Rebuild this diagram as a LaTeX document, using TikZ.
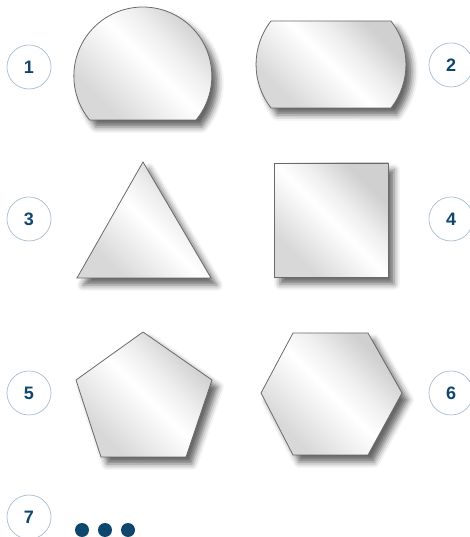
\documentclass[tikz,border=0pt]{standalone}
\usepackage{fontspec}
\setmainfont{Liberation Sans}
\usetikzlibrary{shadows.blur}
\definecolor{numblue}{HTML}{0E466E}
\definecolor{ringblue}{HTML}{A6BECF}
\definecolor{edgegray}{HTML}{6A6A6A}
\definecolor{ga}{HTML}{D8D8D8}
\definecolor{gb}{HTML}{EEEEEE}
\definecolor{gc}{HTML}{D0D0D0}
\pgfdeclarehorizontalshading{shine}{100bp}{color(0bp)=(ga); color(28bp)=(ga); color(40bp)=(gb); color(50bp)=(white); color(60bp)=(gb); color(72bp)=(gc); color(100bp)=(gc)}
\tikzset{
  numring/.style={circle, draw=ringblue, line width=0.7pt, minimum size=44pt, inner sep=0pt,
    font=\fontsize{18}{18}\selectfont\bfseries, text=numblue},
  shp/.style={draw=edgegray, line width=0.8pt, shading=shine, shading angle=45,
    blur shadow={shadow xshift=6pt, shadow yshift=-7pt, shadow blur radius=6pt, shadow opacity=60}},
  dotc/.style={fill=numblue, draw=none}
}
\begin{document}
\begin{tikzpicture}[x=1pt,y=1pt]
\useasboundingbox (0,0) rectangle (469,537);
% number rings
\node[numring] (n1) at (29,470) {1};
\node[numring] (n2) at (451,472) {2};
\node[numring] (n3) at (29,318) {3};
\node[numring] (n4) at (451,318) {4};
\node[numring] (n5) at (29,144) {5};
\node[numring] (n6) at (451,144) {6};
\node[numring] (n7) at (29,20) {7};
% shape 1: truncated circle
\path[shp] (196,417) arc[start angle=-39.6, end angle=219.6, radius=69] -- cycle;
% shape 2: rectangle with bulging sides
\path[shp] (391,516) -- (271,516) arc[start angle=142, end angle=218, radius=70.6]
  -- (391,429) arc[start angle=-38, end angle=38, radius=70.6] -- cycle;
% shape 3: triangle
\path[shp] (143,375) -- (77,259) -- (211,259) -- cycle;
% shape 4: square
\path[shp] (274,260) rectangle (388,374);
% shape 5: pentagon
\path[shp] (143,205) -- (76,157) -- (101,80) -- (186,80) -- (212,157) -- cycle;
% shape 6: hexagon
\path[shp] (293,204) -- (261,144) -- (293,82) -- (368,82) -- (402,144) -- (368,204) -- cycle;
% dots
\fill[dotc] (82,7) circle (7);
\fill[dotc] (105,7) circle (7);
\fill[dotc] (128,7) circle (7);
\end{tikzpicture}
\end{document}
